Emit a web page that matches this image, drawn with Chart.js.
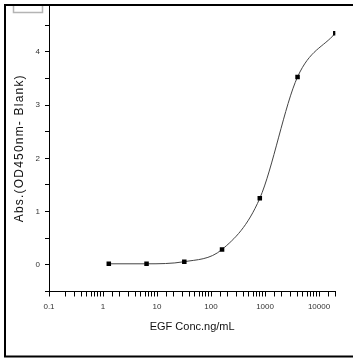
<!DOCTYPE html>
<html>
<head>
<meta charset="utf-8">
<script src="https://cdn.jsdelivr.net/npm/chart.js@4.4.1/dist/chart.umd.min.js"></script>
<style>
  html, body { margin: 0; padding: 0; background: #fff; }
  #wrap { width: 353px; height: 358px; }
</style>
</head>
<body>
<div id="wrap"><canvas id="egfChart" width="353" height="358"></canvas></div>
<script>
// EGF standard curve (ng/mL vs blank-corrected OD450)
var concentrations = [1.28, 6.4, 32, 160, 800, 4000, 20000];
var absorbance = [0.02, 0.02, 0.06, 0.29, 1.25, 3.53, 4.35];
var xTickLabels = ['0.1', '1', '10', '100', '1000', '10000'];
var yTickLabels = ['0', '1', '2', '3', '4'];
var xTitle = 'EGF Conc.ng/mL';
var yTitle = 'Abs.(OD450nm- Blank)';

var points = concentrations.map(function(c, i) {
    return { x: c, y: absorbance[i] };
});

// frame, leftover legend box and the spaced-out y title
var framePlugin = {
    id: 'frame',
    afterDraw: function(chart) {
        var ctx = chart.ctx;
        ctx.save();
        ctx.strokeStyle = '#b4b4b4';
        ctx.lineWidth = 1.5;
        ctx.beginPath();
        ctx.moveTo(13.5, 4);
        ctx.lineTo(13.5, 12.5);
        ctx.lineTo(42.5, 12.5);
        ctx.lineTo(42.5, 4);
        ctx.stroke();

        ctx.strokeStyle = '#000';
        ctx.lineWidth = 2;
        ctx.beginPath();
        ctx.moveTo(4, 5);
        ctx.lineTo(353, 5);
        ctx.moveTo(5, 4);
        ctx.lineTo(5, 357);
        ctx.moveTo(4, 356.5);
        ctx.lineTo(353, 356.5);
        ctx.stroke();

        var area = chart.chartArea;
        ctx.translate(20, (area.top + area.bottom) / 2);
        ctx.rotate(-Math.PI / 2);
        ctx.font = '12px "Liberation Sans", Arial, sans-serif';
        ctx.letterSpacing = '1.2px';
        ctx.fillStyle = '#111';
        ctx.textAlign = 'center';
        ctx.textBaseline = 'middle';
        ctx.fillText(yTitle, 0, 0);
        ctx.restore();
    }
};

var ctx = document.getElementById('egfChart').getContext('2d');
var egfChart = new Chart(ctx, {
    type: 'line',
    data: {
        datasets: [{
            label: 'EGF',
            data: points,
            borderColor: '#444',
            borderWidth: 1,
            cubicInterpolationMode: 'monotone',
            pointStyle: 'rect',
            pointRadius: 3.2,
            pointBackgroundColor: '#000',
            pointBorderColor: '#000',
            pointBorderWidth: 0,
            fill: false
        }]
    },
    options: {
        responsive: false,
        animation: false,
        events: [],
        layout: { padding: { left: 0, top: 5, right: 17.7, bottom: 0 } },
        plugins: {
            legend: { display: false },
            tooltip: { enabled: false }
        },
        scales: {
            x: {
                type: 'logarithmic',
                min: 0.1,
                max: 20000,
                afterFit: function(scale) {
                    scale.height = 66.5;
                    scale.paddingLeft = 0;
                    scale.paddingRight = 0;
                },
                border: { display: true, color: '#000', width: 1 },
                grid: { drawOnChartArea: false, drawTicks: true, tickLength: 5, tickColor: '#000' },
                ticks: {
                    autoSkip: false,
                    maxRotation: 0,
                    padding: 5,
                    color: '#333',
                    font: { family: '"Liberation Sans", Arial, sans-serif', size: 8 },
                    callback: function(value) {
                        var lg = Math.log10(value);
                        if (Math.abs(lg - Math.round(lg)) > 1e-9) return '';
                        return xTickLabels[Math.round(lg) + 1] || '';
                    }
                },
                title: {
                    display: true,
                    text: xTitle,
                    color: '#111',
                    font: { family: '"Liberation Sans", Arial, sans-serif', size: 11 },
                    padding: { top: 0, bottom: 24 }
                }
            },
            y: {
                min: -0.5,
                max: 4.88,
                afterFit: function(scale) {
                    scale.width = 49;
                    scale.paddingTop = 0;
                    scale.paddingBottom = 0;
                },
                border: { display: true, color: '#000', width: 1 },
                grid: { drawOnChartArea: false, drawTicks: true, tickLength: 4, tickColor: '#000' },
                ticks: {
                    stepSize: 0.5,
                    includeBounds: false,
                    padding: 5,
                    color: '#333',
                    font: { family: '"Liberation Sans", Arial, sans-serif', size: 8 },
                    callback: function(value) {
                        if (Math.abs(value - Math.round(value)) > 1e-6 || value < 0) {
                            return Math.abs(value) < 1e-6 ? yTickLabels[0] : '';
                        }
                        return yTickLabels[Math.round(value)] || '';
                    }
                }
            }
        }
    },
    plugins: [framePlugin]
});
</script>
</body>
</html>
